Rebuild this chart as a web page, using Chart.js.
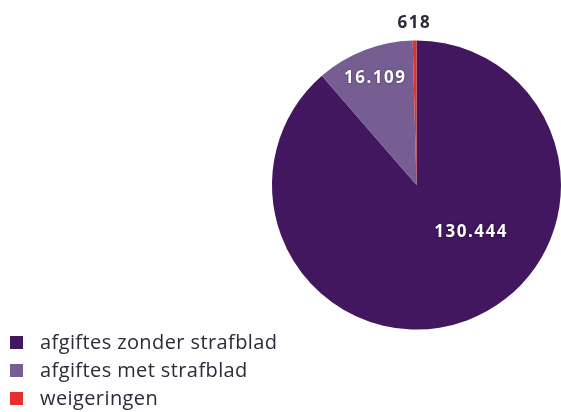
<!DOCTYPE html>
<html lang="nl">
<head>
    <meta charset="UTF-8">
    <title>Afgiftes en weigeringen</title>
    <style>
        body {
            margin: 0;
            padding: 0;
            background: #fff;
            font-family: "Open Sans", sans-serif;
        }
        .wrap {
            position: relative;
            width: 561px;
            height: 412px;
            overflow: hidden;
        }
        .legend {
            position: absolute;
            left: 10px;
            top: 328px;
            margin: 0;
            padding: 0;
            list-style: none;
            font-size: 20px;
            letter-spacing: 0.4px;
            color: #2b2b3a;
        }
        .legend li {
            height: 28px;
            line-height: 28px;
            display: flex;
            align-items: center;
        }
        .legend span {
            display: inline-block;
            width: 13px;
            height: 13px;
            margin-right: 17px;
        }
    </style>
</head>
<body>
<div class="wrap">
    <canvas id="chart" width="561" height="412"></canvas>
    <ul class="legend" id="legend"></ul>
</div>

<script src="https://cdn.jsdelivr.net/npm/chart.js"></script>
<script>
    // data
    const labels = ["afgiftes zonder strafblad", "afgiftes met strafblad", "weigeringen"];
    const values = [130444, 16109, 618];
    const valueTexts = ["130.444", "16.109", "618"];
    const colors = ["#42175f", "#765e92", "#e8302b"];

    // legend in html
    const legend = document.getElementById("legend");
    labels.forEach((label, i) => {
        const li = document.createElement("li");
        const box = document.createElement("span");
        box.style.background = colors[i];
        li.appendChild(box);
        li.appendChild(document.createTextNode(label));
        legend.appendChild(li);
    });

    // where the label sits: fraction of the slice angle, fraction of the radius
    const labelAt = [[0.41, 0.50], [0.5, 0.79], [0.5, 1.12]];

    // value labels on / above the slices
    const valueLabels = {
        id: "valueLabels",
        afterDatasetsDraw(chart) {
            const ctx = chart.ctx;
            const meta = chart.getDatasetMeta(0);
            ctx.save();
            ctx.font = "bold 17px 'Open Sans', sans-serif";
            ctx.letterSpacing = "1.5px";
            ctx.textAlign = "center";
            ctx.textBaseline = "middle";
            meta.data.forEach((arc, i) => {
                const a = arc.startAngle + (arc.endAngle - arc.startAngle) * labelAt[i][0];
                const r = arc.outerRadius * labelAt[i][1];
                if (i === 2) {
                    ctx.fillStyle = "#2b2b3a";
                    ctx.shadowColor = "transparent";
                } else {
                    ctx.fillStyle = "#ffffff";
                    ctx.shadowColor = "rgba(0,0,0,0.6)";
                    ctx.shadowBlur = 2;
                }
                ctx.fillText(valueTexts[i], arc.x + Math.cos(a) * r, arc.y + Math.sin(a) * r);
            });
            ctx.restore();
        }
    };

    new Chart(document.getElementById("chart"), {
        type: "pie",
        data: {
            labels: labels,
            datasets: [{
                data: values,
                backgroundColor: colors,
                borderWidth: 0
            }]
        },
        options: {
            responsive: false,
            animation: false,
            layout: {
                padding: { left: 272, right: 0, top: 40, bottom: 82 }
            },
            plugins: {
                legend: { display: false },
                tooltip: { enabled: false }
            }
        },
        plugins: [valueLabels]
    });
</script>
</body>
</html>
